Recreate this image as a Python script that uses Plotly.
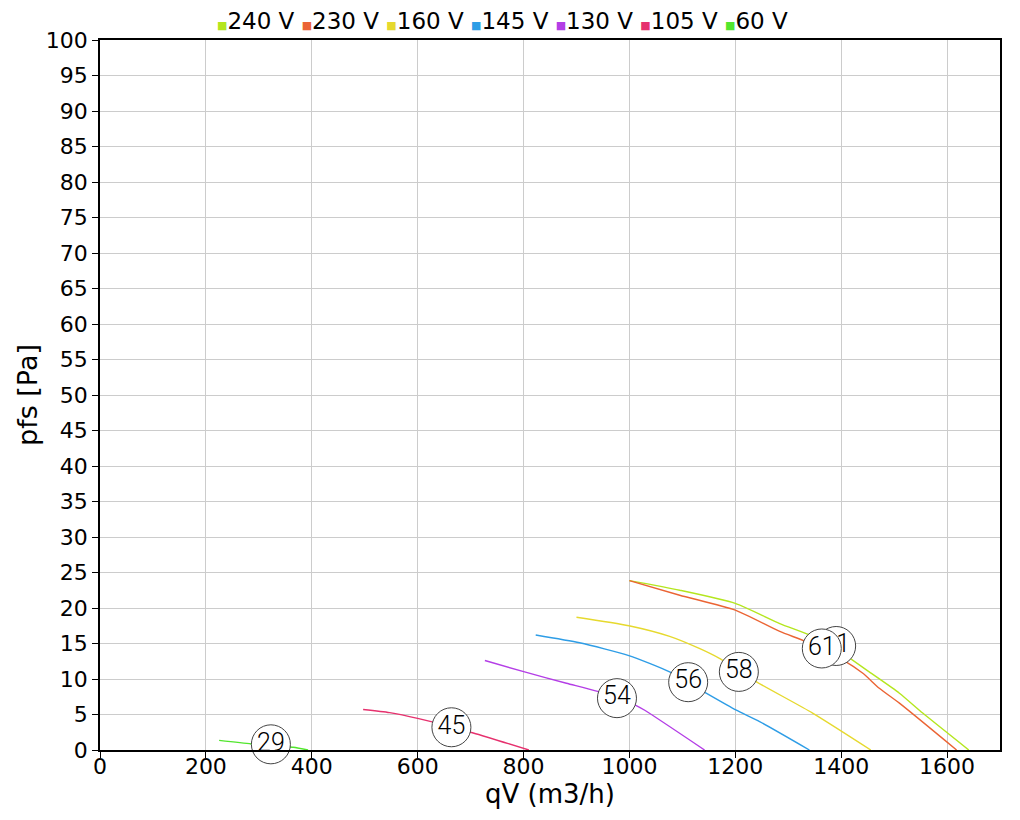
import plotly.graph_objects as go

# ---- data ----
series_names = ["240 V", "230 V", "160 V", "145 V", "130 V", "105 V", "60 V"]
series_colors = ["#b4e61e", "#eb6434", "#e6d92e", "#2e9de6", "#b43ee6", "#e6316e", "#52e62e"]

q_240 = [1000, 1095, 1200, 1284, 1346, 1409, 1453, 1510, 1554, 1641]
p_240 = [23.85, 22.5, 20.65, 17.8, 16.0, 13.3, 11.0, 8.0, 5.2, 0]

q_230 = [1000, 1095, 1200, 1284, 1334, 1403, 1441, 1472, 1510, 1618]
p_230 = [23.85, 21.8, 19.7, 16.7, 15.25, 12.7, 10.8, 8.7, 6.6, 0]

q_160 = [900, 999, 1076, 1132, 1170, 1240, 1346, 1456]
p_160 = [18.7, 17.5, 16.0, 14.3, 12.9, 9.6, 5.2, 0]

q_145 = [823, 906, 999, 1076, 1145, 1202, 1246, 1340]
p_145 = [16.2, 15.1, 13.3, 11.0, 8.0, 5.6, 4.0, 0]

q_130 = [727, 802, 881, 940, 1013, 1029, 1142]
p_130 = [12.6, 11.0, 9.4, 8.25, 6.25, 5.6, 0]

q_105 = [497, 547, 600, 705, 810]
p_105 = [5.7, 5.26, 4.45, 2.4, 0]

q_60 = [225, 286, 365, 393]
p_60 = [1.35, 0.85, 0.38, 0]

label_q = [1390.5, 1363.4, 1206.7, 1111, 976.5, 663.8, 322.8]
label_p = [14.65, 14.3, 11.0, 9.55, 7.3, 3.2, 0.8]
label_text = ["61", "61", "58", "56", "54", "45", "29"]

x_ticks = list(range(0, 1701, 200))
y_ticks = list(range(0, 101, 5))

curves_q = [q_240, q_230, q_160, q_145, q_130, q_105, q_60]
curves_p = [p_240, p_230, p_160, p_145, p_130, p_105, p_60]

SANS = "DejaVu Sans"
LABEL_FONT = "Roboto"

fig = go.Figure()

for name, col, qs, ps in zip(series_names, series_colors, curves_q, curves_p):
    fig.add_trace(go.Scatter(x=qs, y=ps, mode="lines",
                             line=dict(color=col, width=1.4, shape="spline", smoothing=0.6),
                             showlegend=False, name=name))

# circle labels: one trace each so a later circle covers an earlier label
for lq, lp, lt in zip(label_q, label_p, label_text):
    fig.add_trace(go.Scatter(x=[lq], y=[lp], mode="markers+text", text=[lt],
                             textposition="middle center",
                             textfont=dict(family=LABEL_FONT, size=25, color="black", weight=300),
                             marker=dict(size=39, color="white",
                                         line=dict(color="#444444", width=1)),
                             showlegend=False, cliponaxis=False, hoverinfo="skip"))

# compact legend row (coloured square + series name)
legend_text = " ".join(
    f"<span style='color:{c};font-size:11px'>\u25A0</span>{n}"
    for n, c in zip(series_names, series_colors)
)
fig.add_annotation(text=legend_text, xref="paper", yref="paper", x=0.447, y=1.027,
                   xanchor="center", yanchor="middle", showarrow=False,
                   font=dict(family=SANS, size=23, color="black"))

fig.update_layout(
    width=1012, height=812,
    margin=dict(l=92, r=20, t=32, b=70, autoexpand=False),
    paper_bgcolor="white", plot_bgcolor="white",
    font=dict(family=SANS, size=22, color="black"),
    showlegend=False,
    xaxis=dict(range=[0, 1700], tickvals=x_ticks, showgrid=True, gridcolor="#cccccc",
               gridwidth=1, showline=True, linecolor="black", linewidth=1.5, mirror=True,
               ticks="outside", ticklen=6, tickcolor="black", zeroline=False,
               ticklabelstandoff=-10,
               title=dict(text="qV (m3/h)", font=dict(size=26), standoff=0),
               tickfont=dict(size=22)),
    yaxis=dict(range=[0, 100], tickvals=y_ticks, showgrid=True, gridcolor="#cccccc",
               gridwidth=1, showline=True, linecolor="black", linewidth=1.5, mirror=True,
               ticks="outside", ticklen=6, tickcolor="black", zeroline=False,
               title=dict(text="pfs [Pa]", font=dict(size=27), standoff=0),
               tickfont=dict(size=22)),
)

fig.write_html("out.html")
